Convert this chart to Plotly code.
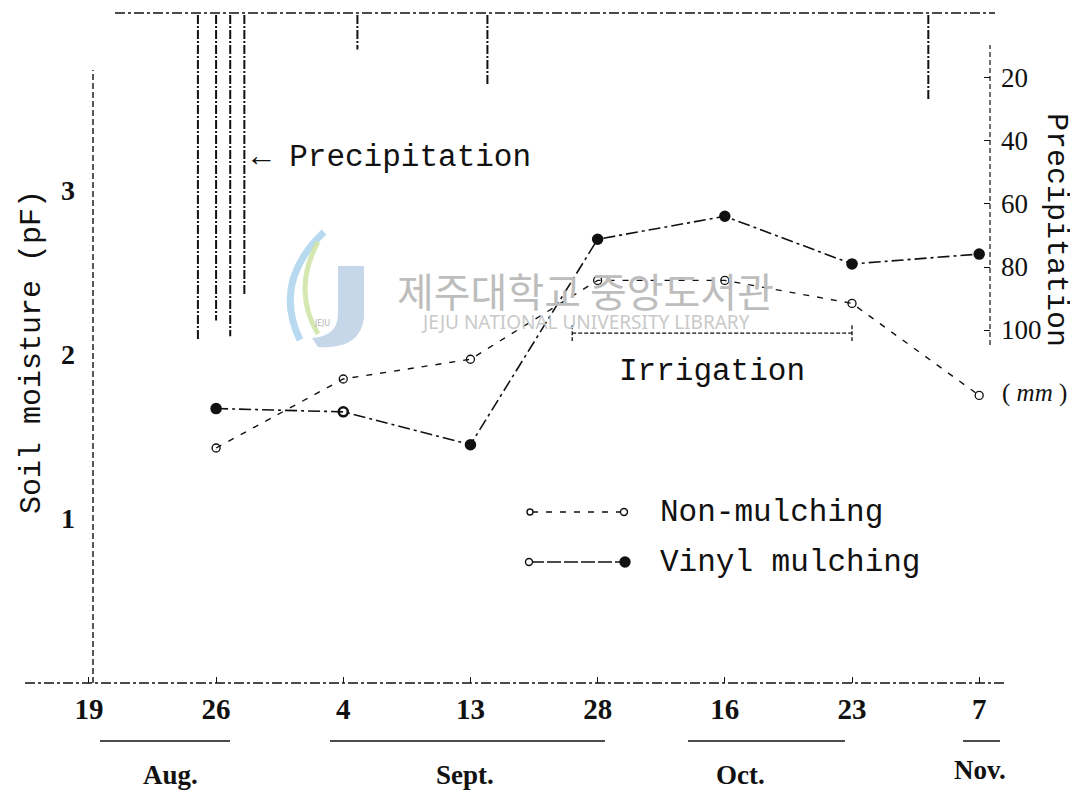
import datetime as dt
import numpy as np
import plotly.graph_objects as go

# sampling dates (year is arbitrary, only day gaps matter)
sample_dates = ["1989-08-19", "1989-08-26", "1989-09-04", "1989-09-13",
                "1989-09-28", "1989-10-16", "1989-10-23", "1989-11-07"]
tick_labels = ["19", "26", "4", "13", "28", "16", "23", "7"]

# soil moisture (pF)
non_mulching = [None, 1.43, 1.85, 1.97, 2.45, 2.45, 2.31, 1.75]
vinyl_mulching = [None, 1.67, 1.65, 1.45, 2.70, 2.84, 2.55, 2.61]
vinyl_symbols = ["circle", "circle", "circle-open", "circle", "circle", "circle", "circle", "circle"]

# precipitation events (mm)
precip_dates = ["1989-08-25", "1989-08-26", "1989-08-27", "1989-08-28",
                "1989-09-05", "1989-09-15", "1989-11-01"]
precip_mm = [103, 97, 102, 89, 11, 22, 27]

# irrigation period
irrigation_dates = ["1989-09-25", "1989-10-23"]
irrigation_mm = 101

precip_ticks = [20, 40, 60, 80, 100]
pf_ticks = [1, 2, 3]

TYPE = "Liberation Mono, Courier New, monospace"
SERIF = "Liberation Serif, Times New Roman, serif"
INK = "#111111"

OFF = 8                      # page margin of the html body
W, H = 1078 - OFF, 793 - OFF
L, R, T, B = 80, 990, 13, 683   # plot area in page pixels


def px(x):
    return (x - L) / (R - L)


def py(y):
    return (B - y) / (B - T)


def to_axis(dates):
    # map calendar dates onto the evenly spaced sampling axis
    so = [dt.date.fromisoformat(d).toordinal() for d in sample_dates]
    do = [dt.date.fromisoformat(d).toordinal() for d in dates]
    return list(np.interp(do, so, range(len(sample_dates))))


x_idx = list(range(len(sample_dates)))
precip_x = to_axis(precip_dates)
irr_x = to_axis(irrigation_dates)

fig = go.Figure()

# precipitation drops hanging from the top
pr_x, pr_y = [], []
for xv, mm in zip(precip_x, precip_mm):
    pr_x += [xv, xv, None]
    pr_y += [0, mm, None]
fig.add_trace(go.Scatter(x=pr_x, y=pr_y, yaxis="y2", mode="lines",
                         line=dict(color=INK, width=2, dash="9px,2px,2px,2px"),
                         hoverinfo="skip"))

# irrigation bracket
fig.add_trace(go.Scatter(
    x=[irr_x[0], irr_x[0], None, irr_x[0], irr_x[1], None, irr_x[1], irr_x[1]],
    y=[irrigation_mm - 2.5, irrigation_mm + 2.5, None, irrigation_mm, irrigation_mm,
       None, irrigation_mm - 2.5, irrigation_mm + 2.5],
    yaxis="y2", mode="lines",
    line=dict(color=INK, width=1.3, dash="4px,2px"), hoverinfo="skip"))

fig.add_trace(go.Scatter(
    x=x_idx, y=non_mulching, mode="lines+markers", name="Non-mulching",
    line=dict(color=INK, width=1.4, dash="6px,8px"),
    marker=dict(symbol="circle-open", size=8, color=INK, line=dict(width=1.3))))

fig.add_trace(go.Scatter(
    x=x_idx, y=vinyl_mulching, mode="lines+markers", name="Vinyl mulching",
    line=dict(color=INK, width=1.6, dash="12px,4px,3px,4px"),
    marker=dict(symbol=vinyl_symbols, size=9, color=INK,
                line=dict(color=INK, width=2.5))))

shapes = []
dash_axis = "10px,3px,3px,3px"
# frame-like lines
shapes.append(dict(type="line", xref="paper", yref="paper", x0=px(25), x1=px(1005),
                   y0=0, y1=0, line=dict(color=INK, width=1.5, dash=dash_axis)))
shapes.append(dict(type="line", xref="paper", yref="paper", x0=px(93), x1=px(93),
                   y0=0, y1=py(70), line=dict(color=INK, width=1.4, dash="6px,3px")))
shapes.append(dict(type="line", xref="paper", yref="paper", x0=px(115), x1=px(995),
                   y0=1, y1=1, line=dict(color=INK, width=1.4, dash=dash_axis)))
shapes.append(dict(type="line", xref="paper", yref="paper", x0=1, x1=1,
                   y0=py(345), y1=py(45), line=dict(color=INK, width=1.2, dash="5px,3px")))

# month underlines
for x0, x1 in [(100, 230), (330, 605), (688, 845), (963, 1000)]:
    shapes.append(dict(type="line", xref="paper", yref="paper", x0=px(x0), x1=px(x1),
                       y0=py(741), y1=py(741), line=dict(color=INK, width=1.6)))

# legend samples
shapes.append(dict(type="line", xref="paper", yref="paper", x0=px(532), x1=px(622),
                   y0=py(512), y1=py(512), line=dict(color=INK, width=1.3, dash="6px,8px")))
shapes.append(dict(type="line", xref="paper", yref="paper", x0=px(530), x1=px(622),
                   y0=py(562), y1=py(562), line=dict(color=INK, width=1.4, dash="14px,3px")))
for cx, cy, r, fill in [(530, 512, 3, "white"), (624, 512, 3.5, "white"),
                        (529, 562, 3.5, "white"), (625, 562, 5, INK)]:
    shapes.append(dict(type="circle", xref="paper", yref="paper",
                       xsizemode="pixel", ysizemode="pixel",
                       xanchor=px(cx), yanchor=py(cy),
                       x0=-r, x1=r, y0=-r, y1=r,
                       fillcolor=fill, line=dict(color=INK, width=1.4)))


# library watermark logo (faint)
def pth(pts, close=False):
    s = ""
    for cmd, *xy in pts:
        coords = " ".join(f"{px(xy[k]):.4f},{py(xy[k + 1]):.4f}" for k in range(0, len(xy), 2))
        s += f"{cmd} {coords} "
    return s + ("Z" if close else "")


shapes.append(dict(type="path", xref="paper", yref="paper", layer="below",
                   path=pth([("M", 338, 266), ("L", 364, 266), ("L", 364, 318),
                             ("Q", 360, 350, 318, 347), ("L", 312, 338),
                             ("Q", 338, 336, 338, 314)], close=True),
                   fillcolor="#b3c9e3", line=dict(width=0), opacity=0.75))
shapes.append(dict(type="path", xref="paper", yref="paper", layer="below",
                   path=pth([("M", 324, 232), ("Q", 272, 282, 300, 340)]),
                   line=dict(color="#a6d2ee", width=7), opacity=0.8))
shapes.append(dict(type="path", xref="paper", yref="paper", layer="below",
                   path=pth([("M", 318, 242), ("Q", 292, 290, 318, 334)]),
                   line=dict(color="#cfe4a4", width=5), opacity=0.85))

ann = []


def text(s, x, y, size=30, font=TYPE, angle=0, xanchor="center", color=INK, bold=False):
    if bold:
        s = "<b>" + s + "</b>"
    ann.append(dict(text=s, x=px(x), y=py(y), xref="paper", yref="paper",
                    showarrow=False, textangle=angle, xanchor=xanchor, yanchor="middle",
                    font=dict(family=font, size=size, color=color)))


# watermark
text("제주대학교 중앙도서관", 585, 290, size=40, font="Noto Sans CJK KR", color="#bdbdbd")
text("JEJU NATIONAL UNIVERSITY LIBRARY", 585, 322, size=19, font="Noto Sans", color="#c9c9c9")
text("JEJU", 322, 322, size=8, font="Noto Sans", color="#b0b0b0")

text("Soil moisture (pF)", 32, 352, size=30, angle=-90)
text("Precipitation", 1056, 230, size=30, angle=90)
text("( <i>mm</i> )", 1034, 393, size=25, font=SERIF)
text("← Precipitation", 250, 158, size=31, xanchor="left")
text("Irrigation", 712, 372, size=31)
text("Non-mulching", 658, 512, size=31, xanchor="left")
text("Vinyl mulching", 658, 562, size=31, xanchor="left")

for s, x, y in [("Aug.", 170, 775), ("Sept.", 465, 775), ("Oct.", 740, 775), ("Nov.", 980, 770)]:
    text(s, x, y, size=27, font=SERIF, bold=True)

fig.update_layout(
    width=W, height=H,
    margin=dict(l=L - OFF, r=OFF + W - R, t=T - OFF, b=OFF + H - B, pad=0),
    paper_bgcolor="white", plot_bgcolor="white",
    showlegend=False,
    shapes=shapes, annotations=ann,
    xaxis=dict(range=[-0.07, 7.085], tickvals=x_idx, ticktext=tick_labels,
               ticks="inside", ticklen=6, tickcolor=INK, tickwidth=1.2,
               showgrid=False, zeroline=False, showline=False,
               ticklabelstandoff=6,
               tickfont=dict(family=SERIF, size=29, color=INK, weight="bold")),
    yaxis=dict(range=[0, 4.077], tickvals=pf_ticks, showgrid=False, zeroline=False,
               showline=False, ticks="", ticklabelstandoff=4,
               tickfont=dict(family=SERIF, size=28, color=INK, weight="bold")),
    yaxis2=dict(overlaying="y", side="right", range=[212, -0.6], tickvals=precip_ticks,
                ticks="inside", ticklen=6, tickcolor=INK, tickwidth=1.2,
                showgrid=False, zeroline=False, showline=False,
                ticklabelstandoff=10,
                tickfont=dict(family=SERIF, size=27, color=INK)),
)

fig.write_html("out.html")
